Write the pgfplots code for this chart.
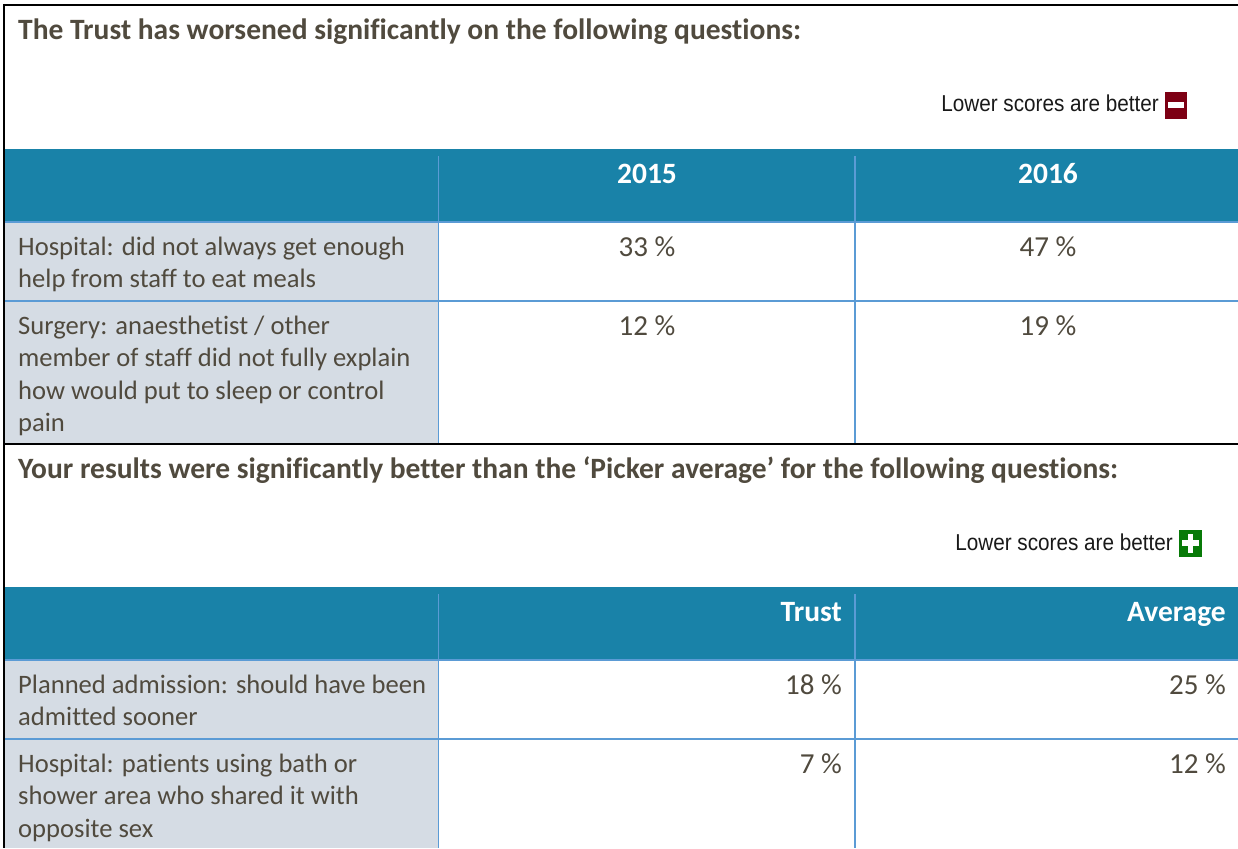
\documentclass[border=0pt]{standalone}
\usepackage{fontspec}
\usepackage{pgfplots}
\pgfplotsset{compat=1.18}
\setmainfont[Ligatures=NoCommon]{Carlito}
\newfontfamily\arialf{Liberation Sans}
\definecolor{teal}{RGB}{25,130,168}
\definecolor{cellgrey}{RGB}{213,220,228}
\definecolor{rule}{RGB}{91,155,213}
\definecolor{ink}{RGB}{80,74,62}
\definecolor{minusred}{RGB}{125,0,20}
\definecolor{plusgreen}{RGB}{8,122,8}
% x0 y0 x1 y1 colour
\newcommand{\cell}[5]{\addplot[fill=#5,draw=none,forget plot] coordinates {(#1,#2) (#3,#2) (#3,#4) (#1,#4)} --cycle;}
\newcommand{\seg}[5]{\addplot[draw=#5,line width=#4pt,forget plot] coordinates {(#1,#2) (#3,#2)};}
\newcommand{\vseg}[5]{\addplot[draw=#5,line width=#4pt,forget plot] coordinates {(#1,#2) (#1,#3)};}
\newcommand{\body}[2]{\node[anchor=base west,inner sep=0pt,text=ink,font=\fontsize{26.6}{30}\selectfont] at (axis cs:18,#1) {#2};}
\newcommand{\heading}[2]{\node[anchor=base west,inner sep=0pt,text=ink,font=\fontsize{29.5}{32}\selectfont\bfseries] at (axis cs:18,#1) {#2};}
\newcommand{\colhead}[3]{\node[anchor=#1,inner sep=0pt,text=white,font=\fontsize{29.5}{32}\selectfont\bfseries] at (axis cs:#2) {#3};}
\newcommand{\lowernote}[2]{\node[anchor=base east,inner sep=0pt,text=black!90,font=\arialf\fontsize{23}{26}\selectfont] at (axis cs:#1,#2) {\scalebox{0.9}[1]{Lower scores are better}};}
\pgfplotstableread{
x y v
647 256 33
1048 256 47
647 335 12
1048 335 19
}\toptable
\pgfplotstableread{
x y v
842 694 18
1226 694 25
842 773 7
1226 773 12
}\bottomtable
\begin{document}
\begin{tikzpicture}
\begin{axis}[
  scale only axis, width=1238pt, height=848pt,
  xmin=0, xmax=1238, ymin=0, ymax=848, y dir=reverse,
  hide axis, clip=true,
]
  \cell{0}{0}{1238}{848}{white}
  % top block
  \cell{4}{149}{1238}{221}{teal}
  \cell{4}{222}{438}{443}{cellgrey}
  % bottom block
  \cell{4}{587}{1238}{659}{teal}
  \cell{4}{660}{438}{848}{cellgrey}
  % blue rules
  \seg{4}{221.5}{1238}{2}{rule}
  \seg{4}{300.5}{1238}{2}{rule}
  \seg{4}{659.5}{1238}{2}{rule}
  \seg{4}{738.5}{1238}{2}{rule}
  \vseg{438.5}{156}{443}{1.8}{rule}
  \vseg{855}{156}{443}{1.8}{rule}
  \vseg{438.5}{594}{848}{1.8}{rule}
  \vseg{855}{594}{848}{1.8}{rule}
  % black frame
  \seg{3}{5}{1238}{2}{black}
  \seg{3}{443.5}{1238}{2}{black}
  \vseg{3.8}{4}{848}{2}{black}
  % minus icon
  \cell{1164.5}{92.3}{1186.8}{118.7}{minusred}
  \cell{1167.5}{102}{1184}{108}{white}
  % plus icon
  \cell{1179}{530}{1202}{556.7}{plusgreen}
  \cell{1182}{540}{1199}{546}{white}
  \cell{1188}{533.5}{1193}{553}{white}
  % values
  \addplot[draw=none,mark=none,forget plot,
    point meta=explicit symbolic,
    nodes near coords={\pgfplotspointmeta~\%},
    every node near coord/.append style={anchor=base,inner sep=0pt,text=ink,font=\fontsize{29}{32}\selectfont}]
    table[x=x,y=y,meta=v] {\toptable};
  \addplot[draw=none,mark=none,forget plot,
    point meta=explicit symbolic,
    nodes near coords={\pgfplotspointmeta~\%},
    every node near coord/.append style={anchor=base east,inner sep=0pt,text=ink,font=\fontsize{29}{32}\selectfont}]
    table[x=x,y=y,meta=v] {\bottomtable};
  % text
  \heading{40}{The Trust has worsened significantly on the following questions:}
  \heading{478}{Your results were significantly better than the ‘Picker average’ for the following questions:}
  \lowernote{1159}{112}
  \lowernote{1173}{550}
  \colhead{base}{647,183}{2015}
  \colhead{base}{1048,183}{2016}
  \colhead{base east}{842,621}{Trust}
  \colhead{base east}{1226,621}{Average}
  \body{255}{Hospital: did not always get enough}
  \body{287}{help from staff to eat meals}
  \body{334}{Surgery: anaesthetist / other}
  \body{366}{member of staff did not fully explain}
  \body{399}{how would put to sleep or control}
  \body{431}{pain}
  \body{693}{Planned admission: should have been}
  \body{725}{admitted sooner}
  \body{772}{Hospital: patients using bath or}
  \body{804}{shower area who shared it with}
  \body{837}{opposite sex}
\end{axis}
\end{tikzpicture}
\end{document}
